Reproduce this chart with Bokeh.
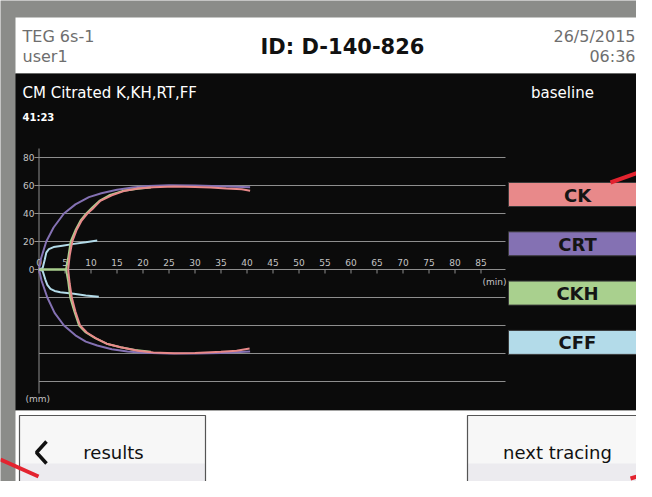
from bokeh.plotting import figure
from bokeh.models import Range1d
from bokeh.core.properties import value
from bokeh.embed import file_html
from bokeh.resources import INLINE

# ---------------- data (time in minutes, amplitude in mm) ----------------
ck_t_up = [5.6, 5.9, 6.4, 7.2, 8.2, 9.3, 10.5, 11.8, 14.0, 16.3, 19.0, 22.0, 26.0, 30.0, 33.0, 36.0, 39.0, 40.6]
ck_a_up = [0, 10, 20, 28, 35, 40, 44, 49, 53, 56, 57.8, 58.8, 59.2, 59.0, 58.5, 57.8, 57.3, 56.3]
ck_t_lo = [5.6, 5.9, 6.3, 7.0, 7.9, 9.2, 10.9, 13.0, 15.7, 19.0, 22.0, 26.0, 30.0, 35.0, 38.0, 40.5]
ck_a_lo = [0, -10, -20, -30, -40, -45, -49, -53, -55.5, -58, -59.3, -59.8, -59.7, -58.8, -58, -56.5]

crt_t_up = [0, 0.4, 1.4, 2.8, 4.8, 7.0, 9.6, 12.0, 15.0, 18.0, 21.0, 25.0, 30.0, 35.0, 40.6]
crt_a_up = [0, 8, 20, 30, 40, 46.5, 51.7, 54.5, 57, 58.5, 59.6, 60.2, 60.0, 59.4, 58.8]
crt_t_lo = [0, 0.5, 1.6, 3.0, 4.8, 7.0, 9.0, 11.2, 14.0, 17.0, 20.0, 25.0, 30.0, 35.0, 40.6]
crt_a_lo = [0, -8, -20, -31, -40, -47, -51.5, -54.3, -57, -58.6, -59.5, -60, -60, -59.6, -58.6]

ckh_t_up = [0, 5.2, 5.6, 6.1, 7.0, 8.0, 9.1, 10.3, 11.6, 13.5, 16.0, 19.0, 21.5]
ckh_a_up = [0, 0, 8, 20, 28, 35, 40, 44.5, 49, 53, 56, 57.7, 58.5]
ckh_t_lo = [0, 5.2, 5.6, 6.0, 6.8, 7.7, 9.0, 10.8, 13.0, 15.7, 18.5, 21.5]
ckh_a_lo = [0, 0, -8, -20, -30, -40, -45, -49, -53, -55.5, -57.5, -58.8]

cff_t_up = [0, 0.7, 1.1, 1.4, 1.9, 2.8, 4.5, 6.7, 9.0, 11.2]
cff_a_up = [0, 1, 7, 12, 14.5, 16, 17, 18.3, 19.5, 20.7]
cff_t_lo = [0, 0.7, 1.2, 1.6, 2.2, 3.0, 4.1, 6.7, 9.0, 11.5]
cff_a_lo = [0, -1, -7, -11, -13.8, -15.3, -16.2, -17.4, -18.5, -19.5]

x_ticks = [0, 5, 10, 15, 20, 25, 30, 35, 40, 45, 50, 55, 60, 65, 70, 75, 80, 85]
y_ticks = [80, 60, 40, 20, 0]
grid_mm = [80, 60, 40, 20, 0, -20, -40, -60, -80]

legend_labels = ["CK", "CRT", "CKH", "CFF"]
legend_colors = ["#e8898a", "#8471b3", "#a9d08e", "#b3dbe9"]

# ---------------- layout / calibration (pixels of the picture) ----------------
W, H = 636, 481
T0_PX, PX_PER_MIN = 38.5, 5.2
MM0_PX, PX_PER_MM = 269.0, 1.4


def dx(px):
    return (px - T0_PX) / PX_PER_MIN


def dy(py):
    return (MM0_PX - py) / PX_PER_MM


FONT = value("DejaVu Sans")
GRAY = "#8b8c89"

p = figure(width=W, height=H, output_backend="svg", toolbar_location=None,
           x_range=Range1d(dx(0), dx(W)), y_range=Range1d(dy(H), dy(0)),
           x_axis_type=None, y_axis_type=None, min_border=0,
           background_fill_color=GRAY, border_fill_color=GRAY, outline_line_color=None)
p.grid.visible = False

# panels
p.quad(left=[dx(15)], right=[dx(700)], top=[dy(17)], bottom=[dy(73)], fill_color="white", line_color=None)
p.quad(left=[dx(15)], right=[dx(700)], top=[dy(73)], bottom=[dy(410)], fill_color="#0b0b0b", line_color=None)
p.quad(left=[dx(15)], right=[dx(700)], top=[dy(410)], bottom=[dy(490)], fill_color="white", line_color=None)


def text(x, y, s, size, color="black", align="left", bold=False):
    p.text(x=[x], y=[y], text=[s], text_font=FONT, text_font_size=size, text_color=color,
           text_align=align, text_baseline="middle", text_font_style="bold" if bold else "normal")


# header
text(dx(22), dy(36), "TEG 6s-1", "16px", "#6e6e6e")
text(dx(22), dy(56), "user1", "16px", "#6e6e6e")
text(dx(342), dy(46), "ID: D-140-826", "21px", "#111111", "center", True)
text(dx(635), dy(36), "26/5/2015", "16px", "#6e6e6e", "right")
text(dx(635), dy(56), "06:36", "16px", "#6e6e6e", "right")

# chart header texts
text(dx(22), dy(92), "CM Citrated K,KH,RT,FF", "15px", "white")
text(dx(22), dy(117), "41:23", "10px", "white", bold=True)
text(dx(562), dy(92), "baseline", "15px", "white", "center")

# grid + axes
AX_COL = "#8e8e8e"
p.segment(x0=[0] * len(grid_mm), x1=[dx(505)] * len(grid_mm), y0=grid_mm, y1=grid_mm,
          line_color=AX_COL, line_width=1)
p.segment(x0=[0], x1=[0], y0=[dy(148)], y1=[dy(393)], line_color=AX_COL, line_width=1)
p.segment(x0=[dx(34)] * len(y_ticks), x1=[0] * len(y_ticks), y0=y_ticks, y1=y_ticks,
          line_color=AX_COL, line_width=1)
p.segment(x0=x_ticks, x1=x_ticks, y0=[0] * len(x_ticks), y1=[dy(273)] * len(x_ticks),
          line_color=AX_COL, line_width=1)
p.text(x=[dx(34)] * len(y_ticks), y=y_ticks, text=[str(v) for v in y_ticks], text_font=FONT,
       text_font_size="9px", text_color="#c4c4c4", text_align="right", text_baseline="middle")
p.text(x=x_ticks, y=[dy(262)] * len(x_ticks), text=[str(v) for v in x_ticks], text_font=FONT,
       text_font_size="9px", text_color="#c4c4c4", text_align="center", text_baseline="middle")
text(dx(506), dy(281), "(min)", "9px", "#c4c4c4", "right")
text(dx(25), dy(398), "(mm)", "9px", "#c4c4c4")

# tracings
p.line(cff_t_up, cff_a_up, line_color=legend_colors[3], line_width=2)
p.line(cff_t_lo, cff_a_lo, line_color=legend_colors[3], line_width=2)
p.line(crt_t_up, crt_a_up, line_color=legend_colors[1], line_width=2)
p.line(crt_t_lo, crt_a_lo, line_color=legend_colors[1], line_width=2)
p.line(ckh_t_up, ckh_a_up, line_color=legend_colors[2], line_width=2)
p.line(ckh_t_lo, ckh_a_lo, line_color=legend_colors[2], line_width=2)
p.line(ck_t_up, ck_a_up, line_color=legend_colors[0], line_width=2)
p.line(ck_t_lo, ck_a_lo, line_color=legend_colors[0], line_width=2)

# legend boxes
tops = [182 + i * 49.3 for i in range(len(legend_labels))]
p.quad(left=[dx(508)] * 4, right=[dx(646)] * 4, top=[dy(t) for t in tops],
       bottom=[dy(t + 24) for t in tops], fill_color=legend_colors, line_color="#3a3a3a", line_width=1)
p.text(x=[dx(577)] * 4, y=[dy(t + 12.5) for t in tops], text=legend_labels, text_font=FONT,
       text_font_size="18px", text_font_style="bold", text_color="#151515",
       text_align="center", text_baseline="middle")

# buttons
for l, r, lab, cx in [(19, 205, "results", 113), (467, 651, "next tracing", 557)]:
    p.quad(left=[dx(l)], right=[dx(r)], top=[dy(415)], bottom=[dy(487)], fill_color="#f7f7f7", line_color=None)
    p.quad(left=[dx(l)], right=[dx(r)], top=[dy(463)], bottom=[dy(487)], fill_color="#ecebef", line_color=None)
    p.quad(left=[dx(l)], right=[dx(r)], top=[dy(415)], bottom=[dy(487)], fill_color=None,
           line_color="#555555", line_width=1.2)
    text(dx(cx), dy(452), lab, "18px", "#111111", "center")
p.line([dx(46), dx(36), dx(46)], [dy(441), dy(452), dy(463)], line_color="#111111", line_width=3.5)

# red pointer marks
RED = "#e3232f"
p.segment(x0=[dx(610), dx(0), dx(630)], y0=[dy(182), dy(459), dy(478)],
          x1=[dx(660), dx(38), dx(660)], y1=[dy(164), dy(476), dy(469)], line_color=RED, line_width=4)

open("out.html", "w").write(file_html(p, INLINE))
